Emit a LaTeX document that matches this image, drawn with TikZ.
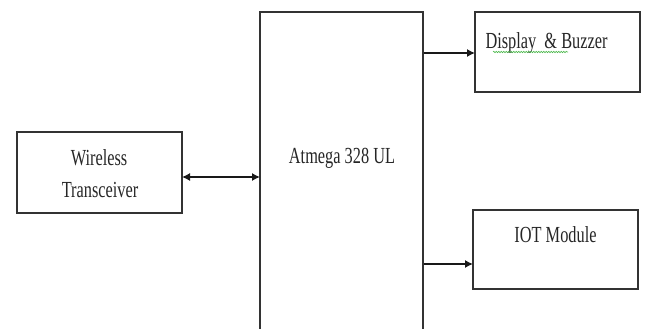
\documentclass[tikz,border=0pt]{standalone}
\usepackage{fontspec}
\setmainfont{Liberation Serif}
\usetikzlibrary{arrows.meta,decorations.pathmorphing}
\newcommand{\sqz}[1]{\scalebox{0.71}[1]{\fontsize{23}{27}\selectfont #1}}
\tikzset{
  blockbox/.style={draw=black!80, line width=1.6pt, inner sep=0pt, fill=none},
  lbl/.style={anchor=base, inner sep=0pt, text=black!85},
  conn/.style={draw=black!90, line width=1.3pt},
  tip/.style={-{Latex[length=8pt,width=8pt]}},
  bitip/.style={{Latex[length=8pt,width=8pt]}-{Latex[length=8pt,width=8pt]}}
}
\begin{document}
\begin{tikzpicture}[x=1pt,y=-1pt]
\useasboundingbox (0,0) rectangle (646,329);
\clip (0,0) rectangle (646,329);
% boxes
\node[blockbox, minimum width=165pt, minimum height=81pt] (wire) at (99.5,172.5) {};
\node[blockbox, minimum width=163pt, minimum height=330pt] (main) at (341.5,177) {};
\node[blockbox, minimum width=165pt, minimum height=80pt] (disp) at (557.5,52) {};
\node[blockbox, minimum width=165pt, minimum height=79pt] (iot) at (555.5,249.5) {};
% labels
\node[lbl] (wtxt1) at (99,165) {\sqz{Wireless}};
\node[lbl] (wtxt2) at (100,197) {\sqz{Transceiver}};
\node[lbl] (mtxt) at (342,164) {\sqz{Atmega 328 UL}};
\node[lbl] (dtxt) at (546.5,48.3) {\sqz{Display\ \ \& Buzzer}};
\node[lbl] (itxt) at (555.5,242) {\sqz{IOT Module}};
% spell-check squiggle
\draw[green!60!black!70, line width=0.6pt, decorate, decoration={snake, amplitude=0.7pt, segment length=2.5pt}] (493,52) -- (568,52);
% connectors
\coordinate (wa) at (182,177);
\coordinate (ma) at (260,177);
\coordinate (da) at (475,53);
\coordinate (ia) at (473,264);
\draw[conn, bitip] (wa) -- (ma);
\draw[conn, tip] (main.east |- da) -- (da);
\draw[conn, tip] (main.east |- ia) -- (ia);
\end{tikzpicture}
\end{document}
